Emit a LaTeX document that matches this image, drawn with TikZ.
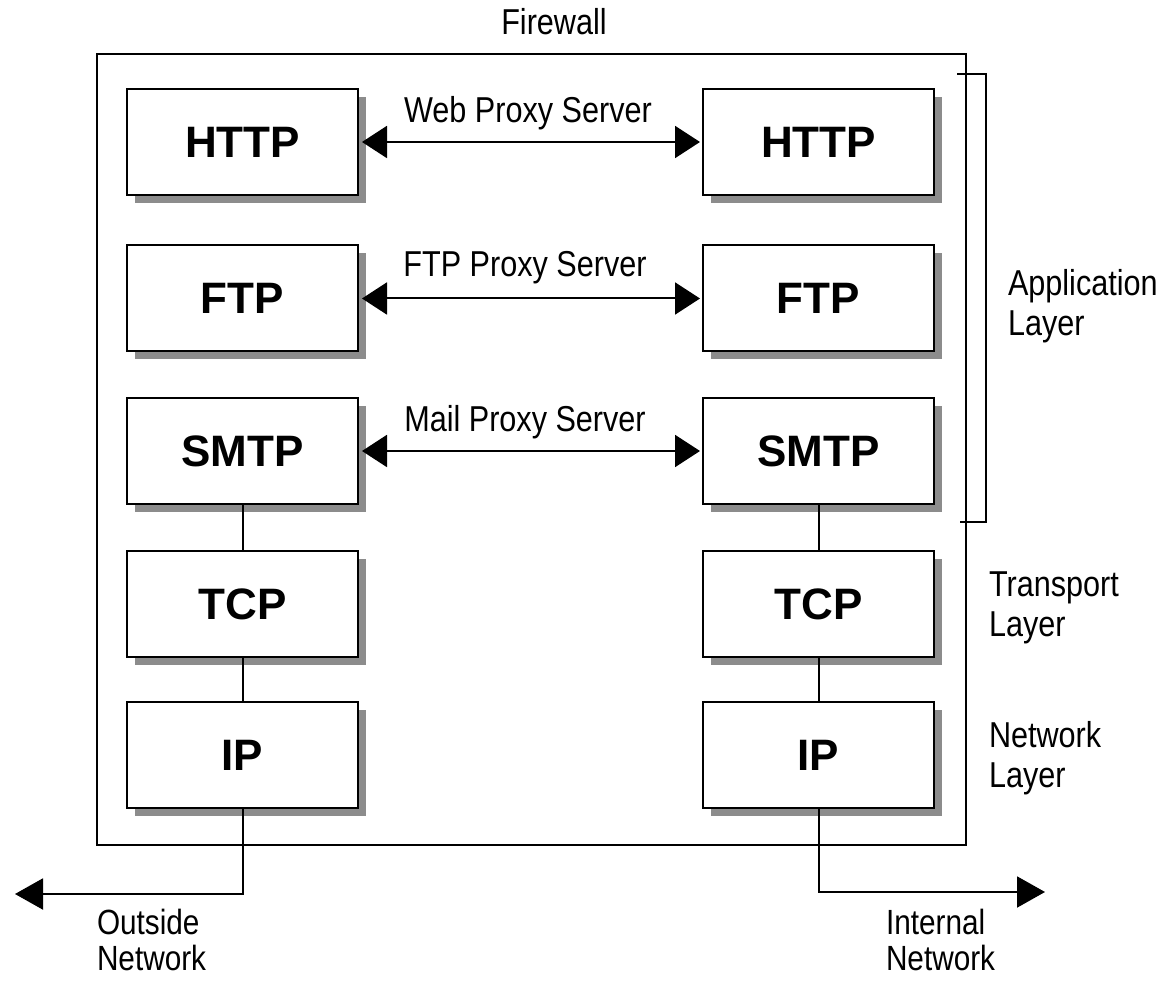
\documentclass[tikz,border=0pt]{standalone}
\usepackage{fontspec}
\setmainfont{Liberation Sans}
\newfontfamily\narrowfont[FakeStretch=0.85]{Liberation Sans}
\usetikzlibrary{arrows.meta, shadows}

\tikzset{
    layerbox/.style={draw, line width=2pt, fill=white, inner sep=0pt,
        minimum width=231pt, minimum height=106pt,
        font=\bfseries\fontsize{44}{48}\selectfont,
        drop shadow={shadow xshift=8pt, shadow yshift=-8pt, fill=black!45, opacity=1}},
    captext/.style={inner sep=0pt, font=\narrowfont\fontsize{36}{40}\selectfont},
    nettext/.style={inner sep=0pt, font=\narrowfont\fontsize{35}{36}\selectfont},
    proxyarrow/.style={{Triangle[length=25pt,width=32pt]}-{Triangle[length=25pt,width=32pt]},
        line width=2pt, shorten <=3pt, shorten >=2pt},
    netarrow/.style={-{Triangle[length=28pt,width=31pt]}, line width=2pt}
}

\begin{document}
\begin{tikzpicture}[x=1pt, y=-1pt, line width=2pt]
    \useasboundingbox (0,0) rectangle (1163,981);
    % firewall frame
    \draw (97,54) rectangle (966,845);
    \node[captext, anchor=base] (fw) at (554,35) {Firewall};
    % outside side
    \node[layerbox] (http1) at (242.5,142) {HTTP};
    \node[layerbox] (ftp1) at (242.5,298.5) {FTP};
    \node[layerbox] (smtp1) at (242.5,451) {SMTP};
    \node[layerbox] (tcp1) at (242.5,604) {TCP};
    \node[layerbox] (ip1) at (242.5,755) {IP};
    % inside side
    \node[layerbox] (http2) at (818.5,142) {HTTP};
    \node[layerbox] (ftp2) at (818.5,298.5) {FTP};
    \node[layerbox] (smtp2) at (818.5,451) {SMTP};
    \node[layerbox] (tcp2) at (818.5,604) {TCP};
    \node[layerbox] (ip2) at (818.5,755) {IP};
    % proxies
    \draw[proxyarrow] (http1.east) -- (http2.west);
    \draw[proxyarrow] (ftp1.east) -- (ftp2.west);
    \draw[proxyarrow] (smtp1.east) -- (smtp2.west);
    \node[captext, anchor=base] (web) at (528,123) {Web Proxy Server};
    \node[captext, anchor=base] (ftpx) at (525,277) {FTP Proxy Server};
    \node[captext, anchor=base] (mail) at (525,432) {Mail Proxy Server};
    % stack links
    \draw (smtp1.south) -- (tcp1.north);
    \draw (tcp1.south) -- (ip1.north);
    \draw (smtp2.south) -- (tcp2.north);
    \draw (tcp2.south) -- (ip2.north);
    % networks
    \coordinate (outside) at (15,894);
    \coordinate (inside) at (1045,892);
    \draw[netarrow] (ip1.south) |- (outside);
    \draw[netarrow] (ip2.south) |- (inside);
    \node[nettext, anchor=north west, align=left] (outnet) at (96,908) {Outside\\Network};
    \node[nettext, anchor=north west, align=left] (innet) at (885,908) {Internal\\Network};
    % layers
    \draw (957,74) -- (986,74) -- (986,522) -- (960,522);
    \node[captext, anchor=north west, align=left] (app) at (1007,268) {Application\\Layer};
    \node[captext, anchor=north west, align=left] (trans) at (988,571) {Transport\\Layer};
    \node[captext, anchor=north west, align=left] (net) at (988,720) {Network\\Layer};
\end{tikzpicture}
\end{document}
